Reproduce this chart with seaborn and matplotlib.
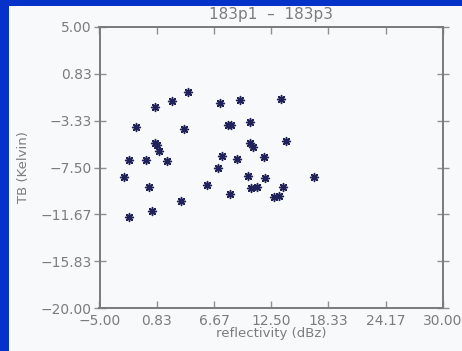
import matplotlib
matplotlib.use("Agg")
import matplotlib.pyplot as plt
import seaborn as sns
import pandas as pd
from matplotlib.patches import Rectangle

# Data
reflectivity = [-2.47, -1.96, -1.96, -1.31, -0.29, 0.04, 0.32, 0.66, 0.66, 0.86,
                1.06, 1.91, 2.42, 3.30, 3.61, 4.05, 5.98, 7.11, 7.28, 7.51,
                8.06, 8.37, 8.27, 8.98, 9.29, 10.16, 10.37, 10.37, 10.61, 10.47,
                11.02, 11.76, 11.83, 12.78, 13.32, 13.46, 13.73, 13.97, 16.86]
tb = [-8.32, -6.83, -11.90, -3.87, -6.83, -9.26, -11.34, -2.09, -5.29, -5.50,
      -6.00, -6.92, -1.56, -10.51, -4.10, -0.78, -9.06, -7.54, -1.76, -6.48,
      -3.69, -3.75, -9.86, -6.72, -1.49, -8.26, -3.45, -5.35, -5.65, -9.32,
      -9.26, -6.59, -8.41, -10.10, -10.04, -1.38, -9.26, -5.17, -8.37]

x_ticks = [-5.0, 0.83, 6.67, 12.5, 18.33, 24.17, 30.0]
x_tick_labels = ["\u22125.00", "0.83", "6.67", "12.50", "18.33", "24.17", "30.00"]
y_ticks = [5.0, 0.83, -3.33, -7.5, -11.67, -15.83, -20.0]
y_tick_labels = ["5.00", "0.83", "\u22123.33", "\u22127.50", "\u221211.67", "\u221215.83", "\u221220.00"]

title = "183p1  \u2013  183p3"
x_label = "reflectivity (dBz)"
y_label = "TB (Kelvin)"

df = pd.DataFrame({"reflectivity": reflectivity, "tb": tb})

sns.set_style("ticks")
plt.rcParams["font.family"] = ["DejaVu Sans"]

W, H = 462, 351
fig = plt.figure(figsize=(W / 100, H / 100), dpi=100)
fig.patch.set_facecolor("#0532c8")
fig.patches.append(Rectangle((9 / W, 0), 1 - 9 / W, (H - 6) / H,
                             transform=fig.transFigure, facecolor="#f8f9fb",
                             edgecolor="none", zorder=-10))

ax = fig.add_axes([99.5 / W, 1 - 308 / H, (443 - 99.5) / W, (308 - 27) / H])
ax.set_facecolor("#f8f9fb")

sns.scatterplot(data=df, x="reflectivity", y="tb", ax=ax,
                marker=(8, 2, 0), s=32, color="#22225a", linewidth=1.1,
                edgecolor="#22225a", legend=False, zorder=3)

ax.set_xlim(-5, 30)
ax.set_ylim(-20, 5)
ax.set_xticks(x_ticks)
ax.set_xticklabels(x_tick_labels)
ax.set_yticks(y_ticks)
ax.set_yticklabels(y_tick_labels)
ax.set_xlabel("")
ax.set_ylabel("")

tick_color = "#7c7c7c"
ax.tick_params(axis="x", direction="in", length=5, width=1, color="#909090",
               labelcolor=tick_color, labelsize=10, pad=4, top=True)
ax.tick_params(axis="y", direction="inout", length=9, width=1, color="#909090",
               labelcolor=tick_color, labelsize=10, pad=1, right=True)
for sp in ax.spines.values():
    sp.set_visible(True)
    sp.set_color("#7a7a7a")
    sp.set_linewidth(1.4)

fig.text(271.25 / W, 1 - 15 / H, title, ha="center", va="center",
         fontsize=11, color=tick_color)
fig.text(271.25 / W, 1 - 333 / H, x_label, ha="center", va="center",
         fontsize=9.5, color=tick_color)
fig.text(24 / W, 1 - 167 / H, y_label, ha="center", va="center",
         rotation=90, fontsize=9.5, color=tick_color)

fig.savefig("out.png", dpi=100, facecolor=fig.get_facecolor())
